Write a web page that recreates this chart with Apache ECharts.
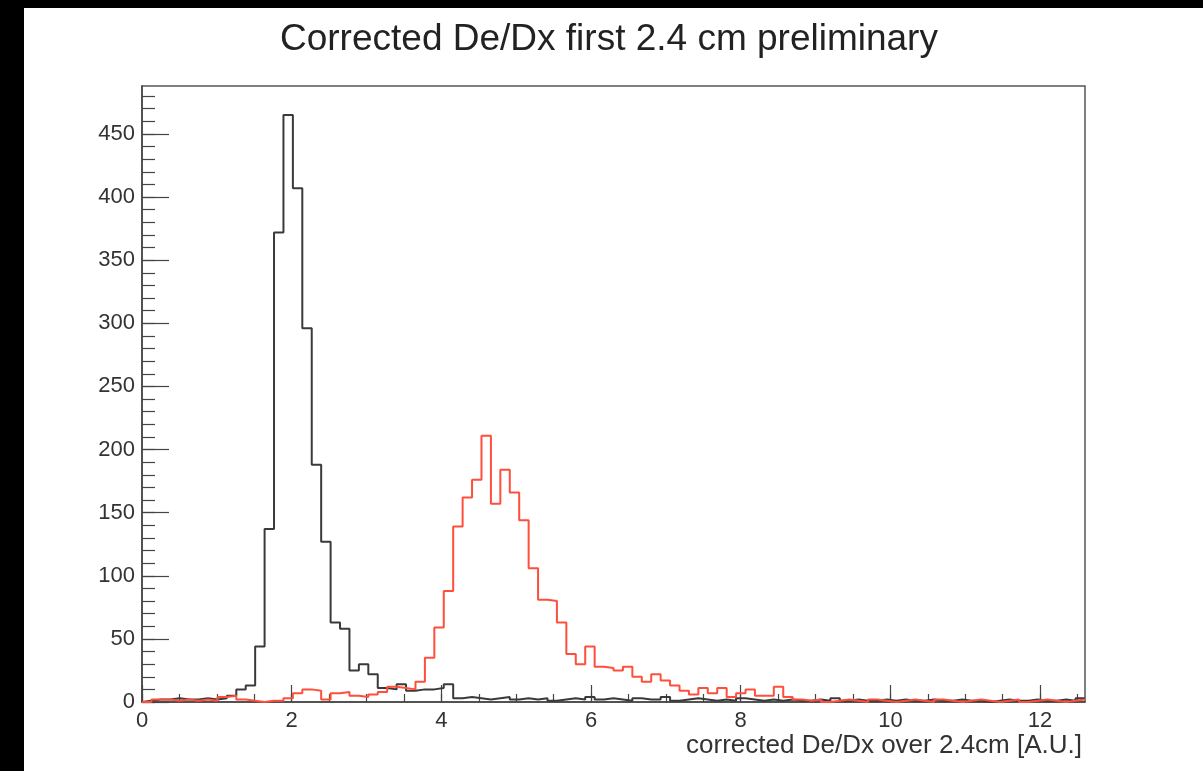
<!DOCTYPE html>
<html>
<head>
<meta charset="utf-8">
<script src="https://cdn.jsdelivr.net/npm/echarts@6/dist/echarts.min.js"></script>
<style>
  html, body { margin: 0; padding: 0; background: #000; width: 1203px; height: 771px; overflow: hidden; }
  #chart { position: absolute; left: 24px; top: 8px; width: 1179px; height: 763px; background: #fff; }
</style>
</head>
<body>
<div id="chart"></div>
<script>
// ---- data ----
const titleText = 'Corrected De/Dx first 2.4 cm preliminary';
const xAxisTitle = 'corrected De/Dx over 2.4cm [A.U.]';
const xMin = 0;
const xMax = 12.6;
const nBins = 100;
const yMax = 488;

// black histogram (per-bin counts)
const blackCounts = [
  1, 2, 2, 3, 2, 2, 3, 2, 3, 5,
  10, 13, 44, 137, 372, 465, 407, 296, 188, 127,
  63, 58, 25, 30, 22, 11, 10, 14, 9, 10,
  10, 11, 14, 3, 4, 3, 2, 3, 4, 2,
  3, 2, 3, 1, 2, 3, 2, 4, 2, 3,
  2, 1, 3, 2, 2, 4, 1, 2, 3, 2,
  1, 2, 1, 3, 2, 1, 2, 1, 2, 1,
  1, 2, 1, 3, 1, 2, 1, 1, 2, 1,
  2, 1, 1, 2, 1, 1, 2, 1, 1, 0,
  1, 2, 1, 1, 2, 1, 1, 2, 1, 3
];

// red histogram (per-bin counts)
const redCounts = [
  0, 2, 2, 1, 2, 1, 2, 1, 4, 5,
  2, 1, 0, 1, 1, 3, 7, 10, 9, 2,
  7, 8, 5, 4, 6, 8, 12, 11, 10, 16,
  35, 59, 88, 139, 162, 176, 211, 157, 184, 166,
  144, 106, 81, 80, 63, 38, 30, 44, 28, 27,
  25, 28, 20, 16, 22, 17, 13, 9, 6, 11,
  7, 11, 4, 7, 10, 5, 5, 12, 4, 2,
  1, 2, 0, 1, 2, 1, 0, 2, 1, 0,
  1, 2, 1, 0, 2, 1, 0, 1, 2, 1,
  0, 1, 2, 0, 1, 2, 1, 0, 1, 2
];

const xMajorTicks = [0, 2, 4, 6, 8, 10, 12];
const yMajorTicks = [0, 50, 100, 150, 200, 250, 300, 350, 400, 450];
const xMinorTicks = [];
for (let v = 0; v <= 12.5 + 1e-9; v += 0.5) xMinorTicks.push(+v.toFixed(2));
const yMinorTicks = [];
for (let v = 0; v <= 480; v += 10) yMinorTicks.push(v);

// ---- build step data from bin low edges ----
function histPoints(counts) {
  const w = (xMax - xMin) / nBins;
  const pts = [[xMin, 0]];
  for (let i = 0; i < counts.length; i++) pts.push([+(xMin + i * w).toFixed(4), counts[i]]);
  pts.push([xMax, counts[counts.length - 1]]);
  return pts;
}

const chart = echarts.init(document.getElementById('chart'), null, { renderer: 'canvas' });
const FONT = 'Liberation Sans, Arial, Helvetica, sans-serif';
const axisCol = '#444';

const option = {
  animation: false,
  backgroundColor: '#fff',
  title: {
    text: titleText,
    left: 251,
    top: 8,
    textStyle: { fontFamily: FONT, fontSize: 37, fontWeight: 'normal', color: '#222' }
  },
  grid: {
    left: 118, top: 78, right: 118, bottom: 69,
    show: true, borderColor: '#555', borderWidth: 1.5,
    containLabel: false, outerBoundsMode: 'none'
  },
  xAxis: [
    {
      type: 'value', min: xMin, max: xMax,
      axisLine: { show: true, onZero: false, lineStyle: { color: axisCol, width: 1.5 } },
      axisTick: { show: true, inside: true, length: 17, customValues: xMajorTicks, lineStyle: { color: axisCol, width: 1.2 } },
      axisLabel: { show: true, customValues: xMajorTicks, margin: 8, fontFamily: FONT, fontSize: 22, color: '#333',
                   showMinLabel: true, showMaxLabel: true },
      splitLine: { show: false }
    },
    {
      type: 'value', min: xMin, max: xMax, position: 'bottom',
      axisLine: { show: false },
      axisTick: { show: true, inside: true, length: 8, customValues: xMinorTicks, lineStyle: { color: axisCol, width: 1.2 } },
      axisLabel: { show: false },
      splitLine: { show: false }
    }
  ],
  yAxis: [
    {
      type: 'value', min: 0, max: yMax,
      axisLine: { show: true, onZero: false, lineStyle: { color: axisCol, width: 1.5 } },
      axisTick: { show: true, inside: true, length: 27, customValues: yMajorTicks, lineStyle: { color: axisCol, width: 1.2 } },
      axisLabel: { show: true, customValues: yMajorTicks, margin: 7, fontFamily: FONT, fontSize: 22, color: '#333' },
      splitLine: { show: false }
    },
    {
      type: 'value', min: 0, max: yMax, position: 'left',
      axisLine: { show: false },
      axisTick: { show: true, inside: true, length: 13, customValues: yMinorTicks, lineStyle: { color: axisCol, width: 1.2 } },
      axisLabel: { show: false },
      splitLine: { show: false }
    }
  ],
  graphic: [
    {
      type: 'text',
      right: 121,
      top: 725,
      style: { text: xAxisTitle, fontFamily: FONT, fontSize: 26, fill: '#333', textAlign: 'right' }
    }
  ],
  series: [
    {
      name: 'black', type: 'line', xAxisIndex: 0, yAxisIndex: 0,
      step: 'end', symbol: 'none', data: histPoints(blackCounts),
      lineStyle: { color: '#3a3a3a', width: 2 }, z: 3
    },
    {
      name: 'red', type: 'line', xAxisIndex: 0, yAxisIndex: 0,
      step: 'end', symbol: 'none', data: histPoints(redCounts),
      lineStyle: { color: '#ff4f3c', width: 2 }, z: 4
    }
  ]
};
chart.setOption(option);
</script>
</body>
</html>
